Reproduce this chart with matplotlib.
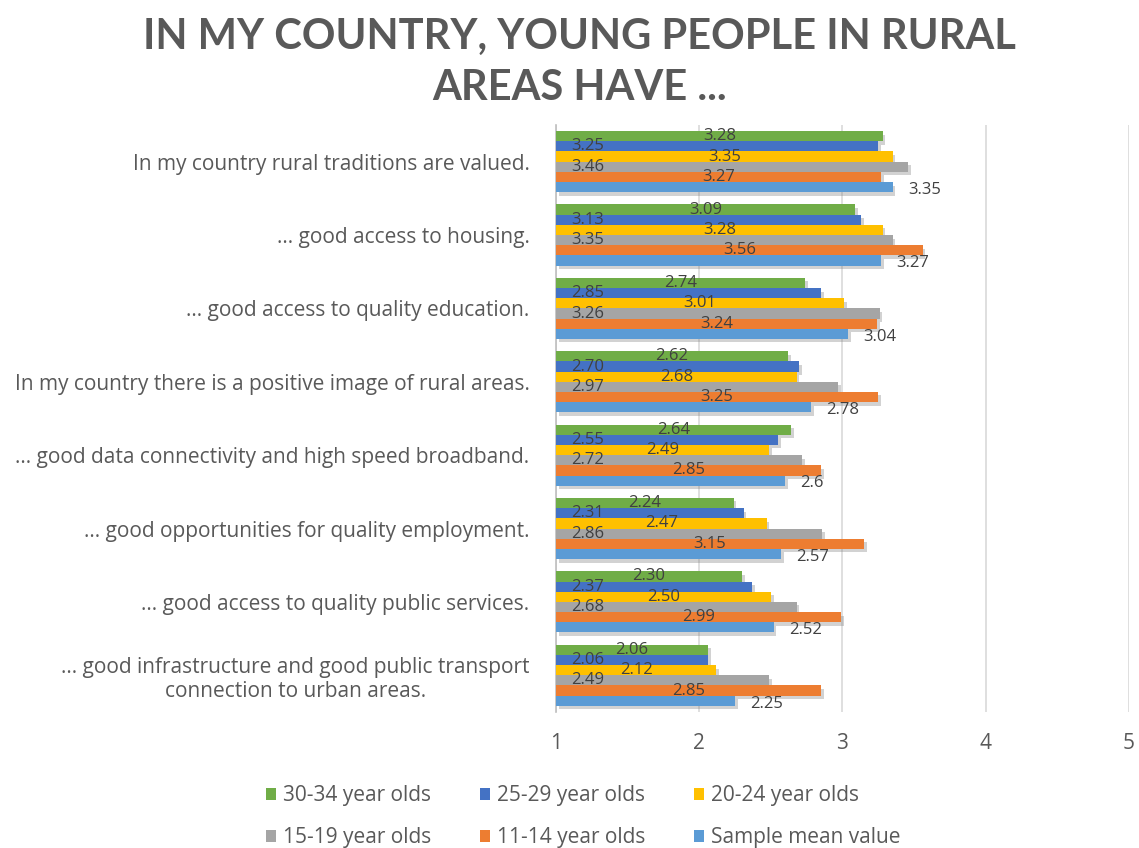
import matplotlib
matplotlib.use("Agg")
import matplotlib.pyplot as plt
import matplotlib.patheffects as pe
from matplotlib.patches import Patch
import numpy as np

categories = [
    "In my country rural traditions are valued.",
    "... good access to housing.",
    "... good access to quality education.",
    "In my country there is a positive image of rural areas.",
    "... good data connectivity and high speed broadband.",
    "... good opportunities for quality employment.",
    "... good access to quality public services.",
    "... good infrastructure and good public transport\nconnection to urban areas.",
]
series_names = ["30-34 year olds", "25-29 year olds", "20-24 year olds",
                "15-19 year olds", "11-14 year olds", "Sample mean value"]
age_30_34 = [3.28, 3.09, 2.74, 2.62, 2.64, 2.24, 2.30, 2.06]
age_25_29 = [3.25, 3.13, 2.85, 2.70, 2.55, 2.31, 2.37, 2.06]
age_20_24 = [3.35, 3.28, 3.01, 2.68, 2.49, 2.47, 2.50, 2.12]
age_15_19 = [3.46, 3.35, 3.26, 2.97, 2.72, 2.86, 2.68, 2.49]
age_11_14 = [3.27, 3.56, 3.24, 3.25, 2.85, 3.15, 2.99, 2.85]
sample_mean = [3.35, 3.27, 3.04, 2.78, 2.6, 2.57, 2.52, 2.25]
x_ticks = [1, 2, 3, 4, 5]

series = [age_30_34, age_25_29, age_20_24, age_15_19, age_11_14, sample_mean]
colors = ["#70AD47", "#4472C4", "#FFC000", "#A5A5A5", "#ED7D31", "#5B9BD5"]
label_mode = ["center", "base", "center", "base", "center", "end"]

FONT = ["Open Sans", "DejaVu Sans"]
fig = plt.figure(figsize=(11.39, 8.48), dpi=100)
ax = fig.add_axes([0.4881, 0.1604, 0.5031, 0.6922])

bh = 1 / 7.2
yc = np.arange(len(categories))
shadow = [pe.SimplePatchShadow(offset=(2, -2.5), shadow_rgbFace="#808080", alpha=0.35), pe.Normal()]

for i, (vals, col, mode) in enumerate(zip(series, colors, label_mode)):
    ypos = yc - 3 * bh + (i + 0.5) * bh
    vals = np.array(vals)
    bars = ax.barh(ypos, vals - 1, left=1, height=bh, color=col, zorder=3)
    for b in bars:
        b.set_path_effects(shadow)
    for y, v in zip(ypos, vals):
        if mode == "center":
            ax.text((1 + v) / 2, y, f"{v:.2f}", ha="center", va="center",
                    fontsize=12, color="#404040", family=FONT, zorder=5)
        elif mode == "base":
            ax.annotate(f"{v:.2f}", (1, y), xytext=(11, 0), textcoords="offset points",
                        ha="left", va="center", fontsize=12, color="#404040", family=FONT, zorder=5)
        else:
            ax.annotate(f"{v:g}", (v, y), xytext=(11, -2), textcoords="offset points",
                        ha="left", va="center", fontsize=12, color="#404040", family=FONT, zorder=5)

ax.set_xlim(1, 5)
ax.set_ylim(len(categories) - 0.5, -0.5)
ax.set_xticks(x_ticks)
ax.set_xticklabels([str(t) for t in x_ticks], fontsize=15, color="#595959", family=FONT)
ax.set_yticks(yc)
ax.set_yticklabels(categories, fontsize=15, color="#595959", family=FONT, ha="right",
                   multialignment="center")
ax.tick_params(axis="x", length=0, pad=15)
ax.tick_params(axis="y", length=0, pad=19)
ax.grid(axis="x", color="#D9D9D9", linewidth=1.2, zorder=0)
ax.set_axisbelow(True)
for s in ["top", "right", "bottom"]:
    ax.spines[s].set_visible(False)
ax.spines["left"].set_color("#BFBFBF")
ax.spines["left"].set_linewidth(1.2)

fig.text(0.509, 0.979, "IN MY COUNTRY, YOUNG PEOPLE IN RURAL\nAREAS HAVE ...", ha="center", va="top",
         fontsize=30, fontweight="bold", color="#595959", family=["Lato", "DejaVu Sans"],
         linespacing=1.43)

handles = [Patch(facecolor=c) for c in colors]
order = [0, 3, 1, 4, 2, 5]
leg = fig.legend([handles[k] for k in order], [series_names[k] for k in order], ncol=3,
                 loc="center", bbox_to_anchor=(0.512, 0.037), frameon=False,
                 prop={"family": FONT, "size": 15}, handlelength=0.5, handleheight=0.5,
                 handletextpad=0.35, columnspacing=2.3, labelspacing=1.0, labelcolor="#595959",
                 borderpad=0)

fig.savefig("out.png", dpi=100)
